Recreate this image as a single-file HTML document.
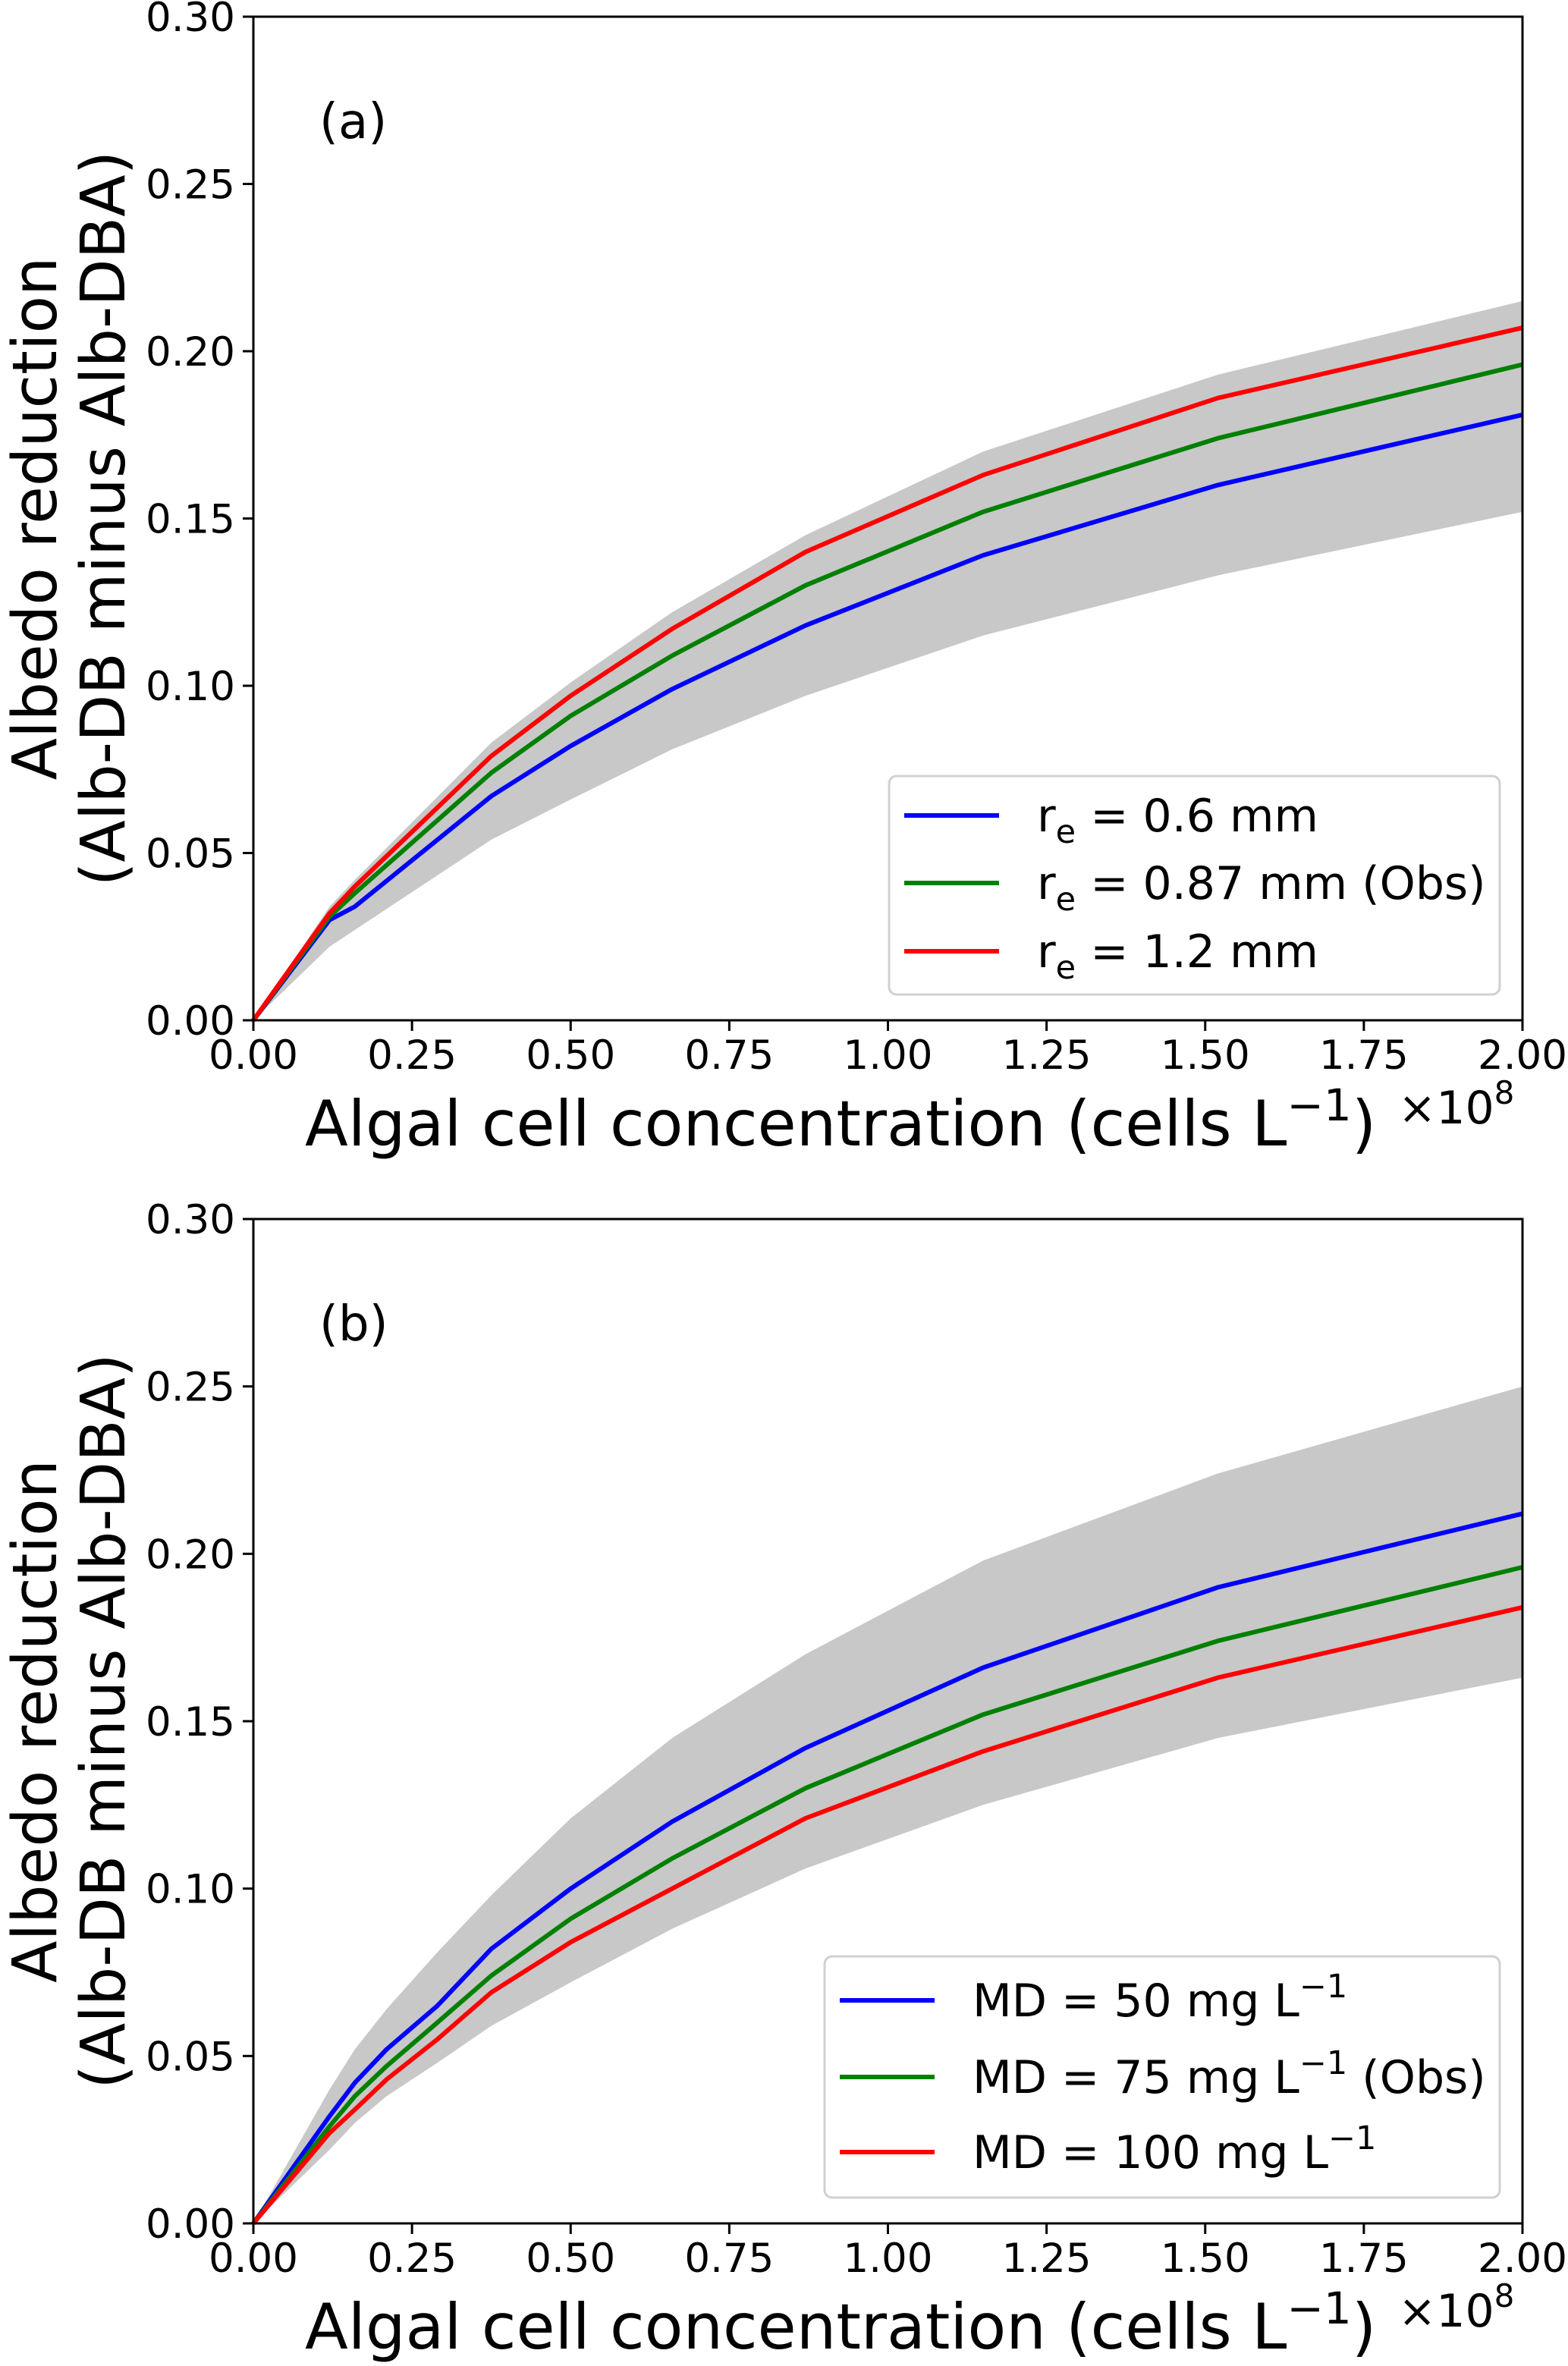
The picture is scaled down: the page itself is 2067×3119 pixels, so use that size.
<!DOCTYPE html>
<html><head><meta charset="utf-8"><style>
html,body{margin:0;padding:0;background:#fff;}
svg{display:block;font-family:"DejaVu Sans","Liberation Sans",sans-serif;}
</style></head><body>
<svg id="fig" width="2067" height="3119" viewBox="0 0 2067 3119" xmlns="http://www.w3.org/2000/svg"></svg>
<script>
// ---- data ----
const xA = [0, 0.12, 0.16, 0.375, 0.5, 0.66, 0.87, 1.15, 1.52, 2.0];
const aBlue  = [0, 0.030, 0.034, 0.067, 0.082, 0.099, 0.118, 0.139, 0.160, 0.181];
const aGreen = [0, 0.031, 0.038, 0.074, 0.091, 0.109, 0.130, 0.152, 0.174, 0.196];
const aRed   = [0, 0.032, 0.040, 0.079, 0.097, 0.117, 0.140, 0.163, 0.186, 0.207];
const aUpper = [0, 0.034, 0.042, 0.083, 0.101, 0.122, 0.145, 0.170, 0.193, 0.215];
const aLower = [0, 0.022, 0.027, 0.054, 0.066, 0.081, 0.097, 0.115, 0.133, 0.152];

const xB = [0, 0.12, 0.16, 0.21, 0.29, 0.375, 0.5, 0.66, 0.87, 1.15, 1.52, 2.0];
const bBlue  = [0, 0.032, 0.042, 0.052, 0.065, 0.082, 0.100, 0.120, 0.142, 0.166, 0.190, 0.212];
const bGreen = [0, 0.029, 0.038, 0.047, 0.060, 0.074, 0.091, 0.109, 0.130, 0.152, 0.174, 0.196];
const bRed   = [0, 0.027, 0.034, 0.043, 0.055, 0.069, 0.084, 0.100, 0.121, 0.141, 0.163, 0.184];
const bUpper = [0, 0.040, 0.052, 0.064, 0.081, 0.098, 0.121, 0.145, 0.170, 0.198, 0.224, 0.250];
const bLower = [0, 0.022, 0.030, 0.038, 0.048, 0.059, 0.072, 0.088, 0.106, 0.125, 0.145, 0.163];

const xTicks = [0, 0.25, 0.5, 0.75, 1.0, 1.25, 1.5, 1.75, 2.0];
const xTickLabels = ["0.00","0.25","0.50","0.75","1.00","1.25","1.50","1.75","2.00"];
const yTicks = [0, 0.05, 0.10, 0.15, 0.20, 0.25, 0.30];
const yTickLabels = ["0.00","0.05","0.10","0.15","0.20","0.25","0.30"];

const NS = "http://www.w3.org/2000/svg";
const svg = document.getElementById("fig");
function mk(tag, attrs, parent, text){
  const e = document.createElementNS(NS, tag);
  for (const k in attrs) e.setAttribute(k, attrs[k]);
  if (text !== undefined) e.textContent = text;
  (parent||svg).appendChild(e);
  return e;
}

function panel(cfg){
  const L=334, R=2007, T=cfg.top, B=cfg.bottom;
  const sx = v => L + (v/2.0)*(R-L);
  const sy = v => B - (v/0.30)*(B-T);
  const g = mk("g", {});
  
  

  let d = "";
  cfg.x.forEach((xv,i)=>{ d += (i?"L":"M")+sx(xv).toFixed(1)+","+sy(cfg.upper[i]).toFixed(1); });
  for (let i=cfg.x.length-1;i>=0;i--) d += "L"+sx(cfg.x[i]).toFixed(1)+","+sy(cfg.lower[i]).toFixed(1);
  const band = mk("path", {d:d+"Z", fill:"#c8c8c8", stroke:"none"}, g);
  
  

  cfg.series.forEach(s=>{
    let p = "";
    cfg.x.forEach((xv,i)=>{ p += (i?"L":"M")+sx(xv).toFixed(1)+","+sy(s.vals[i]).toFixed(1); });
    const ln = mk("path", {d:p, fill:"none", stroke:s.color, "stroke-width":6, "stroke-linejoin":"round"}, g);
    
    
  });

  const fr = mk("rect", {x:L, y:T, width:R-L, height:B-T, fill:"none", stroke:"#000", "stroke-width":3}, g);
  
  

  xTicks.forEach((v,i)=>{
    mk("line", {x1:sx(v), x2:sx(v), y1:B, y2:B+14, stroke:"#000", "stroke-width":3}, g);
    const t = mk("text", {x:sx(v), y:B+64, "font-size":53, "text-anchor":"middle"}, g, xTickLabels[i]);
    
    
  });
  yTicks.forEach((v,i)=>{
    mk("line", {x1:L-14, x2:L, y1:sy(v), y2:sy(v), stroke:"#000", "stroke-width":3}, g);
    const t = mk("text", {x:L-24, y:sy(v)+19, "font-size":53, "text-anchor":"end"}, g, yTickLabels[i]);
    
    
  });

  const pl = mk("text", {x:421, y:T+160, "font-size":64}, g, cfg.label);
  
  

  const xt = mk("text", {x:402, y:B+165, "font-size":83}, g);
  
  
  mk("tspan", {}, xt, "Algal cell concentration (cells L");
  mk("tspan", {dy:-33, "font-size":58}, xt, "\u22121");
  mk("tspan", {dy:33}, xt, ")");
  const off = mk("text", {x:1843, y:B+136, "font-size":60}, g);
  
  
  mk("tspan", {}, off, "\u00d710");
  mk("tspan", {dy:-26, "font-size":42}, off, "8");

  const cy = (T+B)/2;
  const y1 = mk("text", {x:0, y:0, "font-size":81, "text-anchor":"middle", transform:`translate(74,${cy}) rotate(-90)`}, g, "Albedo reduction");
  
  
  const y2 = mk("text", {x:0, y:0, "font-size":81, "text-anchor":"middle", transform:`translate(164,${cy}) rotate(-90)`}, g, "(Alb-DB minus Alb-DBA)");
  
  

  const lg = mk("g", {}, g);
  
  
  const lb = cfg.legend;
  mk("rect", {x:lb.x, y:lb.y, width:lb.w, height:lb.h, rx:10, fill:"#fff", "fill-opacity":0.8, stroke:"#d0d0d0", "stroke-width":3}, lg);
  cfg.series.forEach((s,i)=>{
    const yy = lb.rows[i];
    const e = mk("g", {}, lg);
    
    
    mk("line", {x1:lb.lx, x2:lb.lx+125, y1:yy, y2:yy, stroke:s.color, "stroke-width":6}, e);
    const t = mk("text", {x:lb.lx+175, y:yy+21, "font-size":60}, e);
    s.legend(t);
  });
}

function reLeg(val){
  return t => {
    mk("tspan", {}, t, "r");
    mk("tspan", {dy:15, "font-size":43}, t, "e");
    mk("tspan", {dy:-15}, t, " = " + val);
  };
}
function mdLeg(val, tail){
  return t => {
    mk("tspan", {}, t, "MD = " + val + " mg L");
    mk("tspan", {dy:-25, "font-size":43}, t, "\u22121");
    if (tail) mk("tspan", {dy:25}, t, " " + tail);
  };
}

panel({name:"panel-a", top:22, bottom:1345, label:"(a)", x:xA, upper:aUpper, lower:aLower,
  series:[
    {name:"line-re-0.6", color:"#0000ff", vals:aBlue, legend:reLeg("0.6 mm")},
    {name:"line-re-0.87", color:"#008000", vals:aGreen, legend:reLeg("0.87 mm (Obs)")},
    {name:"line-re-1.2", color:"#ff0000", vals:aRed, legend:reLeg("1.2 mm")}
  ],
  legend:{x:1172, y:1023, w:805, h:288, lx:1192, rows:[1075,1164,1254]}
});
panel({name:"panel-b", top:1607, bottom:2931, label:"(b)", x:xB, upper:bUpper, lower:bLower,
  series:[
    {name:"line-md-50", color:"#0000ff", vals:bBlue, legend:mdLeg("50")},
    {name:"line-md-75", color:"#008000", vals:bGreen, legend:mdLeg("75","(Obs)")},
    {name:"line-md-100", color:"#ff0000", vals:bRed, legend:mdLeg("100")}
  ],
  legend:{x:1087, y:2579, w:890, h:318, lx:1107, rows:[2637,2738,2837]}
});
</script>
</body></html>
